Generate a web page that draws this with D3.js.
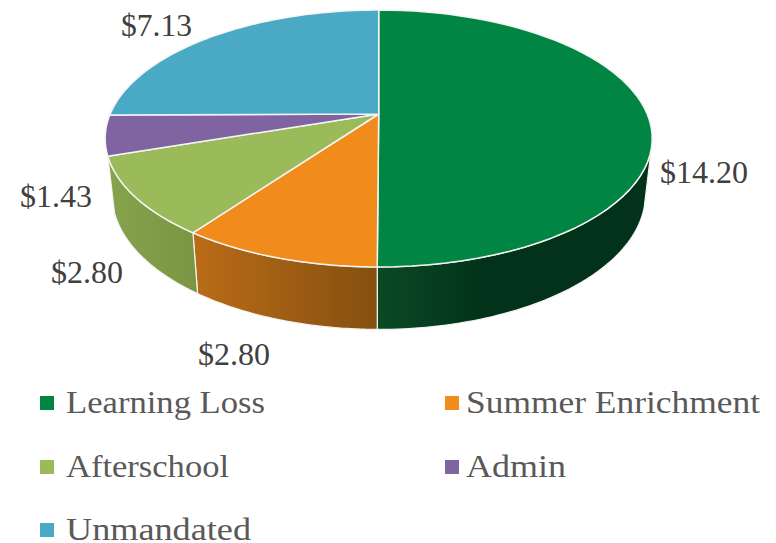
<!DOCTYPE html>
<html>
<head>
<meta charset="utf-8">
<script src="https://cdn.jsdelivr.net/npm/d3@7"></script>
<style>
  html, body { margin: 0; padding: 0; background: #fff; }
  svg { display: block; }
  text { font-family: "Liberation Serif", serif; }
</style>
</head>
<body>
<div id="chart"></div>
<script>
const categories = ['Learning Loss', 'Summer Enrichment', 'Afterschool', 'Admin', 'Unmandated']
const values = [14.20, 2.80, 2.80, 1.43, 7.13]
const colors = ['#008542', '#f18c1c', '#9bba59', '#8064a2', '#4aa9c5']

// side walls as gradient stops left to right. Admin and Unmandated show no wall
const wallStops = [
  [[0, '#0a4a25'], [0.38, '#02331a'], [1, '#02331a']],
  [[0, '#ba6c17'], [1, '#84500f']],
  [[0, '#87a34d'], [1, '#7a9543']],
  null,
  null
]

// label placement, same order as categories: x, baseline, width
const labelPos = [[660, 183, 88], [198, 365, 72], [51, 283, 72], [20, 207, 72], [121, 36, 71]]
const legendPos = [[40, 66, 413, 199], [445, 466, 413, 294], [40, 66, 477, 163], [445, 466, 477, 100], [40, 66, 540, 185]]

const width = 776, height = 543
const cx = 378.7, cy = 114       // apex of the pie on screen
const rx = 268.5, ry = 123.8, persp = 0.1906
const baseScale = 0.975, wallH = 54.7, wallPersp = 0.124
const wallStart = 106 * Math.PI / 180   // right hand silhouette of the pie

const svg = d3.select('#chart').append('svg')
  .attr('width', width)
  .attr('height', height)
const defs = svg.append('defs')

const pie = d3.pie().sort(null).value(d => d)
const arcs = pie(values)

const topPoint = a => {
  const u = Math.sin(a), v = -Math.cos(a), w = 1 - persp * v
  return [cx + rx * u / w, cy + ry * v / w]
}
const basePoint = a => {
  const u = Math.sin(a), v = -Math.cos(a), w = 1 - persp * v
  return [cx + baseScale * rx * u / w, cy + ry * v / w + wallH / (1 - wallPersp * v)]
}
const sweep = (a0, a1) => d3.range(0, 61).map(i => a0 + (a1 - a0) * i / 60)
const line = d3.line()

// walls first, the top surface goes over them
arcs.forEach((d, i) => {
  if (!wallStops[i]) return
  const a0 = i === 0 ? wallStart : d.startAngle
  const rim = sweep(a0, d.endAngle)
  const pts = rim.map(topPoint).concat(rim.slice().reverse().map(basePoint))
  const xs = d3.extent(pts, p => p[0])
  const grad = defs.append('linearGradient')
    .attr('id', `wall${i}`)
    .attr('gradientUnits', 'userSpaceOnUse')
    .attr('x1', xs[0]).attr('x2', xs[1])
    .attr('y1', 0).attr('y2', 0)
  wallStops[i].forEach(s => grad.append('stop').attr('offset', s[0]).attr('stop-color', s[1]))
  svg.append('path')
    .attr('d', line(pts) + 'Z')
    .attr('fill', `url(#wall${i})`)
    .attr('stroke', '#f4f4f4')
    .attr('stroke-width', 1.2)
    .attr('stroke-linejoin', 'round')
})

arcs.forEach((d, i) => {
  const pts = [[cx, cy]].concat(sweep(d.startAngle, d.endAngle).map(topPoint))
  svg.append('path')
    .attr('d', line(pts) + 'Z')
    .attr('fill', colors[i])
    .attr('stroke', '#f4f4f4')
    .attr('stroke-width', 1.5)
    .attr('stroke-linejoin', 'round')
})

values.forEach((v, i) => {
  svg.append('text')
    .attr('x', labelPos[i][0])
    .attr('y', labelPos[i][1])
    .attr('textLength', labelPos[i][2])
    .attr('lengthAdjust', 'spacingAndGlyphs')
    .attr('font-size', 32)
    .attr('fill', '#404040')
    .text(`$${d3.format('.2f')(v)}`)
})

categories.forEach((c, i) => {
  svg.append('rect')
    .attr('x', legendPos[i][0])
    .attr('y', legendPos[i][2] - 17)
    .attr('width', 14)
    .attr('height', 14)
    .attr('fill', colors[i])
  svg.append('text')
    .attr('x', legendPos[i][1])
    .attr('y', legendPos[i][2])
    .attr('textLength', legendPos[i][3])
    .attr('lengthAdjust', 'spacingAndGlyphs')
    .attr('font-size', 32)
    .attr('fill', '#595959')
    .text(c)
})
</script>
</body>
</html>
